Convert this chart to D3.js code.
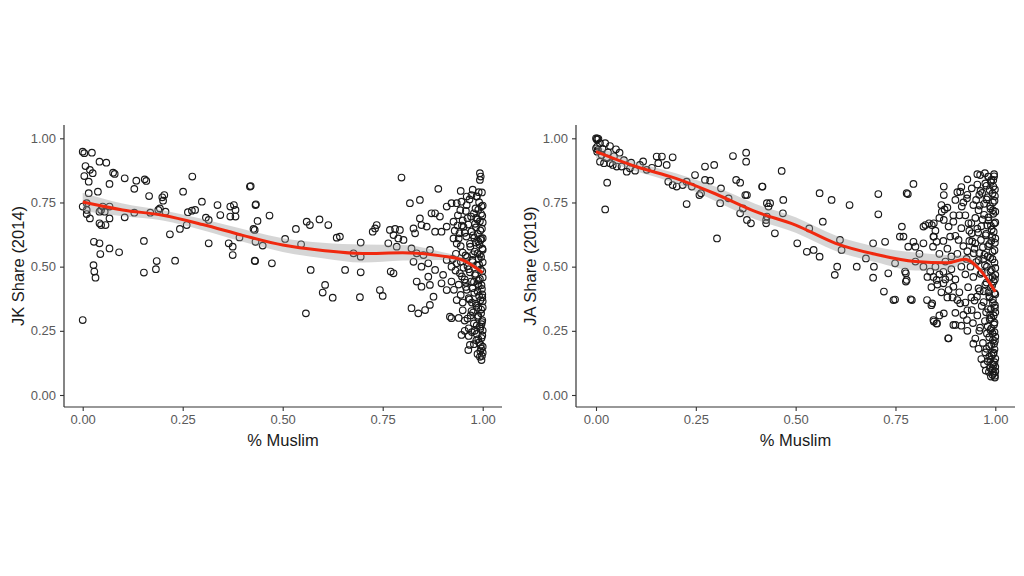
<!DOCTYPE html>
<html><head><meta charset="utf-8">
<script src="https://cdn.jsdelivr.net/npm/d3@7"></script>
<style>body{margin:0;background:#fff}svg{display:block}</style>
</head><body>
<svg id="c" width="1024" height="576"></svg>
<script>
const xTicks = [0, 0.25, 0.5, 0.75, 1.0];
const yTicks = [0, 0.25, 0.5, 0.75, 1.0];
const xTitle = "% Muslim";
const yTitles = ["JK Share (2014)", "JA Share (2019)"];

// Left panel points [% Muslim, JK share 2014]
const jkPoints = [
[0.000,0.948],[0.004,0.942],[0.023,0.944],[0.007,0.892],[0.018,0.877],[0.025,0.864],[0.042,0.909],[0.059,0.905],
[0.004,0.853],[0.015,0.831],[0.076,0.866],[0.080,0.861],[0.067,0.822],[0.105,0.844],[0.134,0.835],[0.155,0.840],
[0.159,0.834],[0.129,0.803],[0.166,0.775],[0.199,0.770],[0.201,0.757],[0.204,0.779],[0.251,0.792],[0.274,0.851],
[0.420,0.814],[0.432,0.740],[0.000,0.734],[0.010,0.747],[0.015,0.786],[0.038,0.792],[0.010,0.721],[0.010,0.705],
[0.018,0.688],[0.042,0.714],[0.050,0.734],[0.046,0.721],[0.055,0.714],[0.042,0.669],[0.046,0.662],[0.057,0.662],
[0.067,0.734],[0.067,0.688],[0.105,0.692],[0.129,0.710],[0.169,0.710],[0.189,0.721],[0.193,0.727],[0.207,0.714],
[0.218,0.626],[0.243,0.647],[0.263,0.712],[0.273,0.718],[0.281,0.721],[0.298,0.753],[0.260,0.662],[0.308,0.691],
[0.315,0.682],[0.315,0.591],[0.337,0.740],[0.344,0.701],[0.369,0.734],[0.378,0.740],[0.382,0.721],[0.369,0.695],
[0.382,0.695],[0.365,0.591],[0.375,0.578],[0.375,0.545],[0.392,0.614],[0.430,0.643],[0.432,0.597],[0.028,0.597],
[0.042,0.591],[0.044,0.549],[0.027,0.506],[0.029,0.481],[0.032,0.457],[0.067,0.571],[0.091,0.556],[0.153,0.600],
[0.153,0.477],[0.185,0.522],[0.183,0.490],[0.231,0.523],[0.430,0.523],[0.000,0.292],
[0.418,0.812],[0.433,0.743],[0.467,0.699],[0.437,0.678],[0.427,0.647],[0.450,0.582],[0.431,0.522],[0.473,0.513],
[0.506,0.608],[0.533,0.647],[0.546,0.587],[0.560,0.675],[0.568,0.662],[0.592,0.684],[0.614,0.662],[0.570,0.487],
[0.606,0.429],[0.600,0.399],[0.625,0.379],[0.558,0.318],[0.635,0.613],[0.643,0.617],[0.656,0.487],[0.677,0.552],
[0.695,0.594],[0.695,0.539],[0.695,0.478],[0.693,0.381],[0.725,0.636],[0.731,0.649],[0.735,0.662],[0.743,0.409],
[0.750,0.386],[0.777,0.474],[0.764,0.591],[0.781,0.647],[0.785,0.578],[0.797,0.847],[0.818,0.747],[0.843,0.760],
[0.889,0.803],[0.945,0.795],[0.993,0.864],[0.995,0.851],
[0.910,0.734],[0.922,0.747],[0.935,0.747],[0.947,0.753],[0.960,0.773],[0.972,0.779],[0.985,0.773],[0.993,0.838],
[0.872,0.708],[0.881,0.708],[0.893,0.695],[0.843,0.688],[0.847,0.662],[0.860,0.656],[0.827,0.649],[0.831,0.630],
[0.768,0.643],[0.777,0.623],[0.789,0.610],[0.802,0.604],[0.793,0.643],[0.881,0.636],[0.897,0.636],[0.910,0.656],
[0.927,0.675],[0.822,0.571],[0.835,0.552],[0.852,0.545],[0.868,0.565],[0.827,0.519],[0.847,0.500],[0.864,0.513],
[0.881,0.487],[0.910,0.526],[0.922,0.500],[0.935,0.513],[0.943,0.474],[0.835,0.442],[0.847,0.422],[0.864,0.461],
[0.868,0.429],[0.897,0.435],[0.910,0.409],[0.922,0.442],[0.901,0.468],[0.822,0.338],[0.839,0.318],[0.856,0.331],
[0.868,0.351],[0.877,0.383],[0.918,0.305],[0.922,0.299],[0.947,0.234],[0.968,0.195],[0.964,0.175],[0.993,0.149],
[0.997,0.136],[0.770,0.481],
[0.998,0.152],[0.994,0.171],[1.000,0.188],[0.991,0.205],[0.997,0.222],[0.985,0.238],[1.000,0.251],[0.993,0.266],
[0.978,0.279],[0.999,0.291],[0.988,0.304],[0.996,0.318],[0.972,0.327],[1.000,0.341],[0.983,0.356],[0.994,0.369],
[0.965,0.377],[0.999,0.392],[0.987,0.404],[0.975,0.416],[0.997,0.428],[0.958,0.437],[0.990,0.446],[1.000,0.458],
[0.981,0.467],[0.968,0.478],[0.995,0.489],[0.952,0.496],[0.986,0.505],[1.000,0.517],[0.974,0.526],[0.961,0.538],
[0.993,0.547],[0.980,0.559],[0.999,0.571],[0.945,0.580],[0.968,0.589],[0.989,0.598],[1.000,0.611],[0.976,0.622],
[0.955,0.632],[0.994,0.641],[0.983,0.653],[0.964,0.664],[1.000,0.672],[0.987,0.684],[0.971,0.695],[0.996,0.706],
[0.958,0.717],[0.982,0.727],[1.000,0.738],[0.991,0.751],[0.967,0.762],[0.985,0.774],[0.998,0.789],[0.976,0.548],
[0.962,0.502],[0.990,0.425],[0.973,0.360],[0.997,0.276],[0.984,0.213],[0.992,0.585],[0.979,0.612],[0.950,0.555],
[0.940,0.610],[0.948,0.660],[0.935,0.590],[0.930,0.640],[0.938,0.700],[0.955,0.450],[0.945,0.520],[0.932,0.485],
[0.960,0.410],[0.950,0.360],[0.970,0.310],[0.955,0.290],[0.980,0.250],[0.965,0.230],[0.995,0.195],[1.000,0.165],
[0.990,0.530],[0.984,0.690],[0.996,0.610],[0.978,0.440],[0.999,0.380],[0.989,0.340],
[0.997,0.735],[0.989,0.722],[0.978,0.708],[0.999,0.698],[0.962,0.689],[0.993,0.677],[0.981,0.667],[0.952,0.655],
[0.998,0.648],[0.972,0.637],[0.988,0.627],[0.959,0.617],[0.995,0.604],[0.983,0.594],[0.969,0.578],[1.000,0.566],
[0.987,0.552],[0.957,0.544],[0.996,0.538],[0.975,0.518],[0.991,0.508],[0.965,0.490],[0.999,0.482],[0.982,0.472],
[0.948,0.462],[0.993,0.452],[0.971,0.442],[0.988,0.432],[0.958,0.421],[0.998,0.413],[0.979,0.398],[0.991,0.386],
[0.967,0.372],[1.000,0.365],[0.984,0.348],[0.996,0.333],[0.976,0.321],[0.989,0.309],[0.962,0.298],[0.998,0.284],
[0.985,0.271],[0.994,0.258],[0.973,0.245],[0.999,0.232],[0.989,0.218],[0.978,0.198],[0.996,0.182],[0.987,0.160],
[0.990,0.790],[0.975,0.800],[0.960,0.740],[0.944,0.720],[0.950,0.680],[0.937,0.660],[0.942,0.630],[0.927,0.610],
[0.933,0.550],[0.925,0.530],[0.940,0.430],[0.928,0.410],[0.945,0.390],[0.935,0.370],[0.950,0.330],[0.940,0.300],
[0.965,0.260],[0.955,0.250]
];

// Right panel points [% Muslim, JA share 2019]
const jaPoints = [
[0.000,1.000],[0.003,1.000],[0.006,0.998],[0.002,0.995],[0.010,0.981],[0.023,0.981],[0.035,0.970],[0.050,0.957],
[0.059,0.944],[0.003,0.948],[0.014,0.935],[0.027,0.922],[0.035,0.903],[0.010,0.909],[0.020,0.903],[0.042,0.896],
[0.052,0.890],[0.064,0.890],[0.077,0.870],[0.085,0.883],[0.098,0.874],[0.110,0.896],[0.127,0.877],[0.152,0.929],
[0.156,0.903],[0.165,0.929],[0.177,0.896],[0.192,0.926],[0.181,0.831],[0.192,0.818],[0.202,0.812],[0.217,0.818],
[0.227,0.831],[0.248,0.857],[0.263,0.786],[0.273,0.838],[0.286,0.835],[0.296,0.896],[0.313,0.805],[0.240,0.812],
[0.259,0.779],[0.227,0.744],[0.303,0.610],[0.311,0.747],[0.343,0.931],[0.351,0.838],[0.361,0.827],[0.376,0.944],
[0.376,0.909],[0.374,0.779],[0.368,0.727],[0.378,0.779],[0.378,0.682],[0.388,0.669],[0.361,0.708],[0.416,0.812],
[0.428,0.747],[0.426,0.682],[0.332,0.766],[0.273,0.890],[0.023,0.723],[0.028,0.827],[0.000,0.961],[0.003,0.968],
[0.005,0.955],[0.016,0.960],[0.030,0.945],[0.045,0.930],[0.070,0.915],[0.088,0.905],[0.140,0.885],[0.118,0.910],
[0.417,0.812],[0.465,0.873],[0.469,0.760],[0.436,0.747],[0.432,0.734],[0.428,0.695],[0.426,0.669],[0.448,0.630],
[0.468,0.708],[0.504,0.591],[0.534,0.649],[0.528,0.558],[0.545,0.565],[0.560,0.539],[0.560,0.786],[0.590,0.760],
[0.635,0.740],[0.568,0.675],[0.611,0.604],[0.615,0.565],[0.598,0.468],[0.604,0.500],[0.653,0.500],[0.676,0.532],
[0.694,0.591],[0.696,0.500],[0.694,0.457],[0.707,0.783],[0.707,0.704],[0.724,0.597],[0.732,0.474],[0.721,0.403],
[0.745,0.370],[0.749,0.372],[0.749,0.513],[0.766,0.656],[0.761,0.617],[0.776,0.474],[0.776,0.442],[0.781,0.783],
[0.795,0.822],[0.788,0.373],[0.795,0.597],[0.800,0.578],[0.825,0.662],[0.834,0.669],[0.846,0.669],[0.829,0.370],
[0.842,0.357],[0.846,0.617],[0.844,0.578],[0.871,0.812],[0.871,0.779],[0.873,0.723],[0.871,0.682],[0.846,0.286],
[0.854,0.279],[0.871,0.318],[0.882,0.221],[0.895,0.273],
[0.778,0.786],[0.866,0.714],[0.912,0.792],[0.916,0.734],[0.929,0.766],[0.941,0.805],[0.962,0.857],[0.974,0.864],
[0.983,0.851],[0.995,0.838],[0.770,0.617],[0.782,0.578],[0.820,0.656],[0.841,0.662],[0.845,0.617],[0.853,0.597],
[0.820,0.591],[0.883,0.656],[0.887,0.617],[0.895,0.675],[0.908,0.604],[0.933,0.669],[0.941,0.630],[0.950,0.591],
[0.946,0.552],[0.774,0.481],[0.778,0.448],[0.791,0.370],[0.837,0.481],[0.853,0.448],[0.870,0.435],[0.883,0.409],
[0.895,0.422],[0.845,0.292],[0.853,0.279],[0.900,0.273],[0.883,0.221],[0.912,0.357],[0.920,0.312],[0.929,0.292],
[0.941,0.331],[0.954,0.383],
[0.850,0.500],[0.860,0.470],[0.875,0.520],[0.890,0.490],[0.900,0.450],[0.905,0.550],[0.915,0.500],[0.920,0.580],
[0.860,0.550],[0.840,0.420],[0.880,0.380],[0.910,0.400],[0.925,0.360],[0.870,0.600],[0.895,0.700],[0.900,0.760],
[0.915,0.650],[0.925,0.700],[0.930,0.780],[0.880,0.730],[0.860,0.690],[0.850,0.640],[0.810,0.550],[0.820,0.500],
[0.830,0.460],[0.800,0.520],[0.840,0.350],[0.860,0.310],[0.900,0.320],[0.915,0.270],[0.930,0.250],
[0.855,0.430],[0.865,0.400],[0.875,0.450],[0.885,0.460],[0.893,0.380],[0.905,0.370],[0.870,0.480],[0.845,0.460],
[0.890,0.540],[0.880,0.570],[0.900,0.620],[0.910,0.700],[0.905,0.790],[0.865,0.740],
[0.999,0.068],[0.993,0.079],[1.000,0.092],[0.987,0.105],[0.996,0.118],[0.981,0.131],[1.000,0.142],[0.991,0.154],
[0.975,0.166],[0.998,0.178],[0.985,0.190],[0.969,0.203],[0.994,0.214],[1.000,0.227],[0.979,0.240],[0.988,0.253],
[0.962,0.262],[0.997,0.275],[0.974,0.288],[0.990,0.300],[0.955,0.310],[1.000,0.322],[0.982,0.335],[0.966,0.347],
[0.994,0.359],[0.948,0.368],[0.986,0.380],[1.000,0.392],[0.971,0.404],[0.958,0.415],[0.992,0.427],[0.978,0.438],
[0.999,0.451],[0.945,0.460],[0.963,0.472],[0.988,0.483],[1.000,0.495],[0.974,0.506],[0.952,0.518],[0.993,0.529],
[0.981,0.541],[0.960,0.553],[0.998,0.564],[0.969,0.576],[0.985,0.588],[0.942,0.598],[1.000,0.610],[0.976,0.622],
[0.957,0.633],[0.991,0.645],[0.965,0.657],[0.997,0.668],[0.983,0.680],[0.950,0.690],[0.972,0.702],[1.000,0.714],
[0.988,0.726],[0.961,0.738],[0.994,0.750],[0.978,0.762],[0.999,0.775],[0.967,0.787],[0.986,0.799],[0.995,0.812],
[0.975,0.824],[0.990,0.838],[0.982,0.851],[0.997,0.860],[0.992,0.120],[0.985,0.150],[0.997,0.200],[0.990,0.260],
[0.999,0.340],[0.983,0.400],[0.993,0.460],[0.970,0.530],[0.990,0.600],[0.980,0.660],[0.994,0.720],[0.960,0.780],
[0.955,0.820],[0.945,0.740],[0.935,0.640],[0.930,0.560],[0.938,0.500],[0.932,0.420],[0.944,0.280],[0.950,0.220],
[0.958,0.180],[0.965,0.140],[0.996,0.086],[0.989,0.072],[1.000,0.110],[0.995,0.160],[0.998,0.245],[0.987,0.312],
[0.997,0.852],[0.989,0.830],[0.978,0.815],[0.999,0.801],[0.963,0.795],[0.993,0.785],[0.981,0.770],[0.952,0.760],
[0.998,0.757],[0.972,0.745],[0.987,0.735],[0.958,0.720],[0.995,0.706],[0.983,0.692],[0.968,0.684],[1.000,0.672],
[0.989,0.659],[0.955,0.648],[0.996,0.636],[0.977,0.628],[0.992,0.616],[0.964,0.604],[0.999,0.593],[0.982,0.580],
[0.948,0.570],[0.993,0.558],[0.973,0.546],[0.987,0.535],[0.958,0.525],[0.998,0.516],[0.979,0.500],[0.991,0.488],
[0.966,0.478],[1.000,0.468],[0.984,0.455],[0.996,0.442],[0.975,0.430],[0.989,0.418],[0.961,0.405],[0.998,0.397],
[0.985,0.385],[0.994,0.372],[0.971,0.362],[0.999,0.350],[0.989,0.335],[0.977,0.322],[0.996,0.310],[0.986,0.295],
[0.998,0.282],[0.981,0.268],[0.993,0.240],[0.985,0.225],[0.999,0.210],[0.990,0.195],[0.978,0.180],[0.996,0.165],
[0.988,0.138],[0.998,0.128],[0.993,0.100],[0.984,0.090],[0.999,0.075],[0.940,0.670],[0.935,0.600],[0.928,0.530],
[0.925,0.470],[0.940,0.380],[0.930,0.330],[0.945,0.200],[0.920,0.750],[0.915,0.810],[0.930,0.840],[0.955,0.860],
[0.960,0.250],[0.972,0.120],[0.976,0.095]
];

// Loess fits: x, fit, half-width of 95% band
const jkSmoothX  = [0, 0.1, 0.2, 0.3, 0.4, 0.5, 0.6, 0.7, 0.8, 0.9, 0.95, 1.0];
const jkSmoothY  = [0.752, 0.721, 0.700, 0.664, 0.622, 0.584, 0.563, 0.551, 0.554, 0.541, 0.525, 0.476];
const jkSmoothSE = [0.035, 0.025, 0.02, 0.022, 0.025, 0.027, 0.03, 0.035, 0.03, 0.015, 0.01, 0.012];

const jaSmoothX  = [0, 0.1, 0.2, 0.3, 0.4, 0.5, 0.6, 0.7, 0.8, 0.88, 0.924, 0.962, 1.0];
const jaSmoothY  = [0.948, 0.890, 0.844, 0.783, 0.714, 0.662, 0.591, 0.548, 0.520, 0.515, 0.529, 0.487, 0.402];
const jaSmoothSE = [0.025, 0.018, 0.02, 0.028, 0.03, 0.03, 0.03, 0.03, 0.035, 0.03, 0.015, 0.01, 0.015];

const FONT = "Liberation Sans, Arial, sans-serif";
const svg = d3.select("#c");
const panels = [
  {pts: jkPoints, sx: jkSmoothX, sy: jkSmoothY, se: jkSmoothSE, yTitle: yTitles[0],
   axisX: 64, axisR: 502, x0: 82.7, x1: 482.7},
  {pts: jaPoints, sx: jaSmoothX, sy: jaSmoothY, se: jaSmoothSE, yTitle: yTitles[1],
   axisX: 576, axisR: 1015, x0: 596, x1: 995.3}
];
const yTop = 125, yBottom = 407, yv0 = 395, yv1 = 138.3;

panels.forEach(p => {
  const x = d3.scaleLinear().domain([0, 1]).range([p.x0, p.x1]);
  const y = d3.scaleLinear().domain([0, 1]).range([yv0, yv1]);
  const g = svg.append("g");

  g.append("g").selectAll("circle").data(p.pts).join("circle")
    .attr("cx", d => x(d[0])).attr("cy", d => y(d[1])).attr("r", 3.3)
    .attr("fill", "none").attr("stroke", "#1a1a1a").attr("stroke-width", 1.15);

  const sm = p.sx.map((v, i) => ({x: v, y: p.sy[i], se: p.se[i]}));
  g.append("path").datum(sm)
    .attr("d", d3.area().x(d => x(d.x)).y0(d => y(d.y - d.se)).y1(d => y(d.y + d.se)).curve(d3.curveMonotoneX))
    .attr("fill", "#999").attr("fill-opacity", 0.4);
  g.append("path").datum(sm)
    .attr("d", d3.line().x(d => x(d.x)).y(d => y(d.y)).curve(d3.curveMonotoneX))
    .attr("fill", "none").attr("stroke", "#f0290f").attr("stroke-width", 3);

  const xa = g.append("g").attr("transform", `translate(0,${yBottom})`)
    .call(d3.axisBottom(x).tickValues(xTicks).tickFormat(d3.format(".2f")).tickSize(4).tickSizeOuter(0));
  xa.select(".domain").attr("d", `M${p.axisX},0H${p.axisR}`);
  const ya = g.append("g").attr("transform", `translate(${p.axisX},0)`)
    .call(d3.axisLeft(y).tickValues(yTicks).tickFormat(d3.format(".2f")).tickSize(4).tickSizeOuter(0));
  ya.select(".domain").attr("d", `M0,${yTop}V${yBottom}`);
  [xa, ya].forEach(a => {
    a.select(".domain").attr("stroke", "#333").attr("stroke-width", 1.2);
    a.selectAll(".tick line").attr("stroke", "#333").attr("stroke-width", 1.1);
    a.selectAll(".tick text").attr("fill", "#5a5a5a").style("font-family", FONT).style("font-size", "13px");
  });
  xa.selectAll(".tick text").attr("y", 8).attr("dy", "0.71em");
  ya.selectAll(".tick text").attr("x", -8);

  g.append("text").attr("x", (p.axisX + p.axisR) / 2).attr("y", 446)
    .attr("text-anchor", "middle").attr("fill", "#1a1a1a")
    .style("font-family", FONT).style("font-size", "16.5px").text(xTitle);
  g.append("text").attr("transform", `translate(${p.axisX - 40},${(yTop + yBottom) / 2}) rotate(-90)`)
    .attr("text-anchor", "middle").attr("fill", "#1a1a1a")
    .style("font-family", FONT).style("font-size", "16.5px").text(p.yTitle);
});
</script>
</body></html>
